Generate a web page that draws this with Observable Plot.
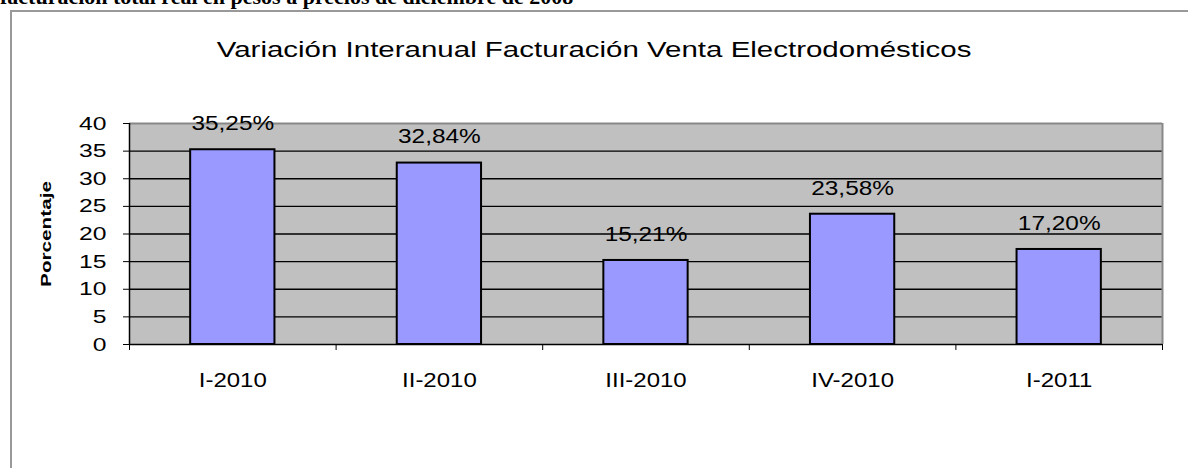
<!DOCTYPE html>
<html><head><meta charset="utf-8">
<script src="https://cdn.jsdelivr.net/npm/d3@7"></script>
<script src="https://cdn.jsdelivr.net/npm/@observablehq/plot@0.6"></script>
<style>
html,body{margin:0;padding:0;background:#fff;overflow:hidden;width:1188px;height:468px;}
body{position:relative;font-family:"Liberation Sans",Arial,sans-serif;}
#header{position:absolute;left:0;top:-16px;font:bold 22px "Liberation Serif","Times New Roman",serif;white-space:nowrap;color:#000;line-height:normal;}
#frame{position:absolute;left:10px;top:10px;width:1200px;height:500px;border:2px solid #999;}
#chart{position:absolute;left:0;top:0;width:1188px;}
#title{height:80px;box-sizing:border-box;padding-top:37px;text-align:center;font-size:22.5px;line-height:normal;color:#000;white-space:nowrap;font-family:"Liberation Sans",Arial,sans-serif;}
#title span{display:inline-block;transform:scaleX(1.31);transform-origin:center;}
svg{display:block;}
</style></head><body>
<div id="header">facturación total real en pesos a precios de diciembre de 2008</div>
<div id="frame"></div>
<div id="chart"><div id="title"><span>Variación Interanual Facturación Venta Electrodomésticos</span></div></div>
<script>
const categories = ["I-2010", "II-2010", "III-2010", "IV-2010", "I-2011"];
const values = [35.25, 32.84, 15.21, 23.58, 17.20];
const valueLabels = ["35,25%", "32,84%", "15,21%", "23,58%", "17,20%"];
const yTicks = [0, 5, 10, 15, 20, 25, 30, 35, 40];
const yLabel = "Porcentaje";

const data = categories.map((c, i) => ({i, category: c, value: values[i], label: valueLabels[i]}));
const n = categories.length;
const half = 0.204;
const boundaries = d3.range(n + 1);
const centers = d3.range(n).map(i => i + 0.5);

const plot = Plot.plot({
  width: 1188, height: 388,
  marginLeft: 129, marginRight: 26, marginTop: 43, marginBottom: 124,
  x: {type: "linear", domain: [0, n], label: null},
  y: {domain: [0, 40], label: null},
  style: {fontFamily: "Liberation Sans, Arial, sans-serif", background: "transparent", color: "black", overflow: "visible"},
  marks: [
    Plot.frame({fill: "#c0c0c0", stroke: null}),
    Plot.gridY(yTicks.filter(t => t > 0 && t < 40), {stroke: "black", strokeOpacity: 1, strokeWidth: 1.3}),
    Plot.ruleY([40], {stroke: "#888", strokeWidth: 2}),
    Plot.ruleX([n], {stroke: "#888", strokeWidth: 2}),
    Plot.rectY(data, {x1: d => d.i + 0.5 - half, x2: d => d.i + 0.5 + half, y1: 0, y2: "value", fill: "#9999ff", stroke: "black", strokeWidth: 2}),
    Plot.ruleY([0], {stroke: "black", strokeWidth: 1.5}),
    Plot.ruleX([0], {stroke: "black", strokeWidth: 1.5}),
    Plot.axisY({ticks: yTicks, tickSize: 6, tickPadding: 17, fontSize: 19, label: null}),
    Plot.axisY({ticks: [], tickSize: 0, label: yLabel, labelAnchor: "center", labelArrow: false, labelOffset: 89, fontSize: 15, fontWeight: "bold"}),
    Plot.axisX({ticks: boundaries, tickSize: 6, tickFormat: () => "", label: null}),
    Plot.axisX({ticks: centers, tickSize: 0, tickPadding: 28, tickFormat: t => categories[Math.floor(t)], fontSize: 20, label: null}),
    Plot.text(data, {x: d => d.i + 0.5, y: "value", text: "label", dy: -26, fontSize: 20, fill: "black"})
  ]
});
document.getElementById("chart").appendChild(plot);

function stretch(sel, k) {
  plot.querySelectorAll(sel).forEach(t => {
    const L = t.getComputedTextLength();
    if (L > 0) { t.setAttribute("textLength", L * k); t.setAttribute("lengthAdjust", "spacingAndGlyphs"); }
  });
}
stretch('g[aria-label="y-axis tick label"] text', 1.3);
stretch('g[aria-label="x-axis tick label"] text', 1.2);
stretch('g[aria-label="text"] text', 1.22);
stretch('g[aria-label="y-axis label"] text', 1.38);
</script>
</body></html>
